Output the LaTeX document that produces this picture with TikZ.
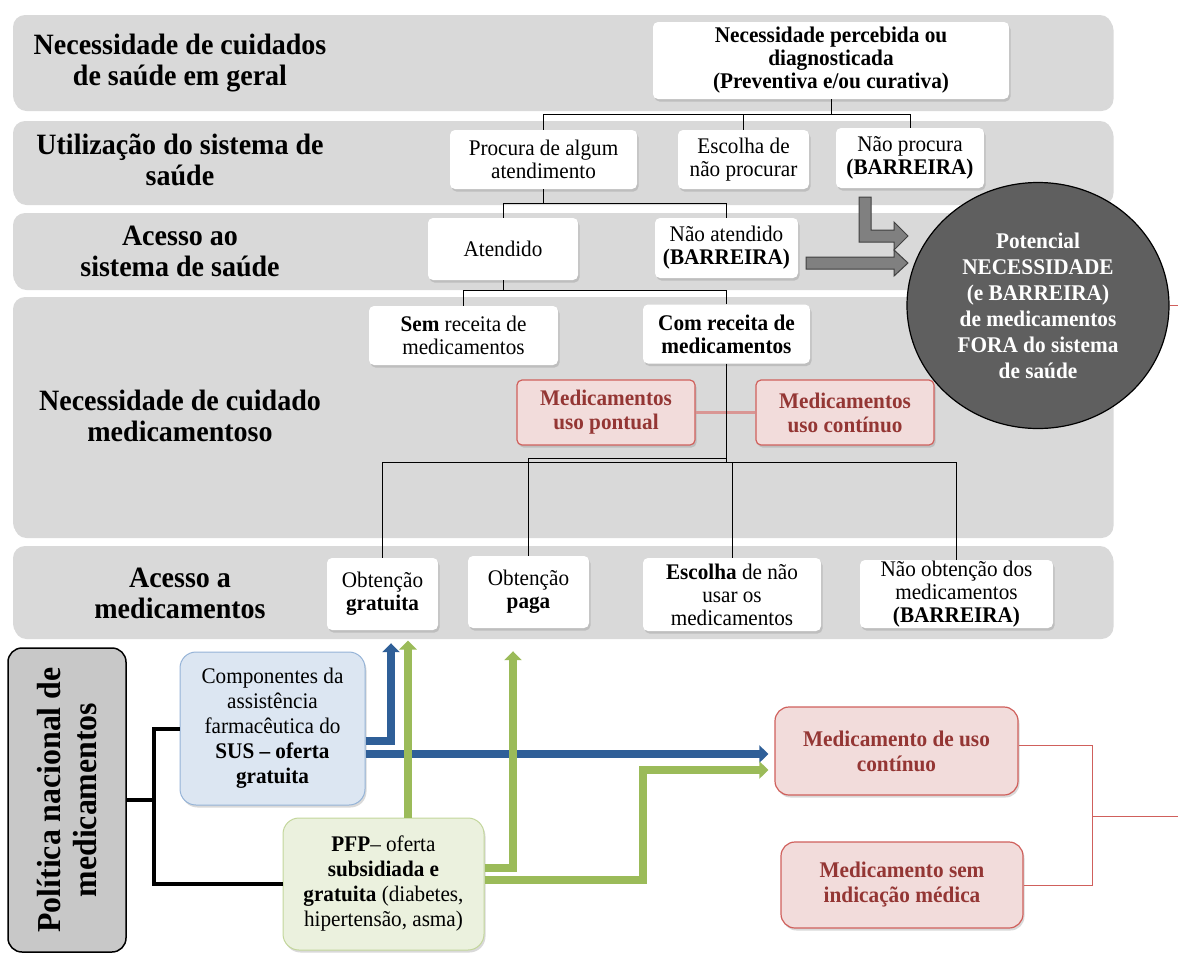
\documentclass[tikz,border=0pt]{standalone}
\usepackage{fontspec}
\setmainfont[FakeStretch=0.95]{Liberation Serif}
\usetikzlibrary{arrows.meta,shadows,shapes.geometric,calc}

\definecolor{bandgray}{HTML}{D9D9D9}
\definecolor{polgray}{HTML}{C8C8C8}
\definecolor{circgray}{HTML}{5F5F5F}
\definecolor{arrgray}{HTML}{808080}
\definecolor{redfill}{HTML}{F2DCDB}
\definecolor{redborder}{HTML}{D0605C}
\definecolor{redtext}{HTML}{943634}
\definecolor{redlink}{HTML}{D99694}
\definecolor{susfill}{HTML}{DCE6F2}
\definecolor{susborder}{HTML}{95B3D7}
\definecolor{pfpfill}{HTML}{EBF1DE}
\definecolor{pfpborder}{HTML}{C3D69B}
\definecolor{susblue}{HTML}{2F5F98}
\definecolor{pfpgreen}{HTML}{9BBB59}

\newcommand{\setsize}[2]{\fontsize{#1}{#2}\selectfont\lineskiplimit=-50pt}

\tikzset{
  band/.style={fill=bandgray, rounded corners=12pt,
    drop shadow={shadow xshift=1.5pt, shadow yshift=-3pt, opacity=.3}},
  bandlabel/.style={align=center, font=\setsize{29.5}{31}\bfseries},
  whitebox/.style={fill=white, rounded corners=5pt, inner sep=0pt, align=center,
    font=\setsize{22.3}{23},
    drop shadow={shadow xshift=1.5pt, shadow yshift=-2.5pt, opacity=.3}},
  boldbox/.style={whitebox, font=\setsize{22.4}{23}\bfseries},
  redbox/.style={whitebox, fill=redfill, draw=redborder, line width=1.2pt,
    text=redtext, font=\setsize{22.3}{24}\bfseries},
  sustext/.style={whitebox, rounded corners=16pt, line width=1pt,
    font=\setsize{22.3}{25}},
  tree/.style={line width=1pt},
  polline/.style={line width=4pt},
  bracket/.style={draw=redborder, line width=.8pt},
  grayarrow/.style={fill=arrgray, draw=black!75, line width=1pt},
  bluearrow/.style={draw=susblue, line width=7.5pt, -{Triangle[width=17pt,length=9pt]}},
  greenarrow/.style={draw=pfpgreen, line width=8.5pt, -{Triangle[width=17pt,length=9pt]}},
}

\begin{document}
\begin{tikzpicture}[x=1pt,y=-1pt]
\useasboundingbox (0,0) rectangle (1178,954);

% faixas
\fill[band] (13,15) rectangle (1112,108);
\fill[band] (13,121) rectangle (1112,202);
\fill[band] (13,213) rectangle (1112,287);
\fill[band] (13,297) rectangle (1112,535);
\fill[band] (13,546) rectangle (1112,636);

\node[bandlabel] (lbnec) at (180,63) {Necessidade de cuidados\\de saúde em geral};
\node[bandlabel] (lbuso) at (180,160) {Utilização do sistema de\\saúde};
\node[bandlabel] (lbacs) at (180,251) {Acesso ao\\sistema de saúde};
\node[bandlabel] (lbmed) at (180,416) {Necessidade de cuidado\\medicamentoso};
\node[bandlabel] (lbacm) at (180,593) {Acesso a\\medicamentos};

% caixas
\node[boldbox, minimum width=356pt, minimum height=77pt] (nec) at (831,60.5) {Necessidade percebida ou\\diagnosticada\\(Preventiva e/ou curativa)};
\node[whitebox, minimum width=187pt, minimum height=59pt] (procura) at (543.5,159.5) {Procura de algum\\atendimento};
\node[whitebox, minimum width=131pt, minimum height=59pt] (escolha) at (743.5,159.5) {Escolha de\\não procurar};
\node[whitebox, minimum width=148pt, minimum height=60pt] (naoproc) at (910,158) {Não procura\\\textbf{(BARREIRA)}};
\node[whitebox, minimum width=150pt, minimum height=62pt] (atend) at (503,249) {Atendido};
\node[whitebox, minimum width=143pt, minimum height=60pt] (naoatend) at (726.5,248) {Não atendido\\\textbf{(BARREIRA)}};
\node[whitebox, minimum width=189pt, minimum height=59pt] (semrec) at (463.5,335.5) {\textbf{Sem} receita de\\medicamentos};
\node[boldbox, minimum width=167pt, minimum height=59pt] (comrec) at (726.5,334) {Com receita de\\medicamentos};
\node[redbox, minimum width=178pt, minimum height=65pt] (pontual) at (606,412.5) {Medicamentos\\uso pontual};
\node[redbox, minimum width=178pt, minimum height=65pt] (continuo) at (845,412.5) {Medicamentos\\uso contínuo};
\node[whitebox, minimum width=111pt, minimum height=72pt] (gratis) at (382.5,594) {Obtenção\\\textbf{gratuita}};
\node[whitebox, minimum width=121pt, minimum height=72pt] (paga) at (528.5,592) {Obtenção\\\textbf{paga}};
\node[whitebox, minimum width=178pt, minimum height=73pt] (naousa) at (732,594.5) {\textbf{Escolha} de não\\usar os\\medicamentos};
\node[whitebox, minimum width=193pt, minimum height=68pt] (naoobt) at (956.5,594) {Não obtenção dos\\medicamentos\\\textbf{(BARREIRA)}};

% ligacoes
\draw[tree] (nec.south) -- ++(0,15) coordinate (b1);
\draw[tree] (b1) -| (procura.north);
\draw[tree] (b1) -| (escolha.north);
\draw[tree] (b1) -| (naoproc.north);
\draw[tree] (procura.south) -- ++(0,14) coordinate (b2);
\draw[tree] (b2) -| (atend.north);
\draw[tree] (b2) -| (naoatend.north);
\draw[tree] (atend.south) -- ++(0,10) coordinate (b3);
\draw[tree] (b3) -| (semrec.north);
\draw[tree] (b3) -| (comrec.north);
\draw[redlink, line width=3pt] (pontual.east) -- (continuo.west);
\draw[tree] (comrec.south) -- ++(0,95) coordinate (b4) -| (paga.north);
\draw[tree] (b4) -- ++(0,4) coordinate (b5) -| (gratis.north);
\draw[tree] (b5) -| (naousa.north);
\draw[tree] (b5) -| (naoobt.north);

% setas cinzas
\draw[grayarrow] (859,197) -- (871,197) -- (871,230) -- (894,230) -- (894,222) -- (908,236) -- (894,250) -- (894,242) -- (859,242) -- cycle;
\draw[grayarrow] (806,257) -- (894,257) -- (894,250) -- (908,263) -- (894,276) -- (894,269) -- (806,269) -- cycle;

\node[ellipse, fill=circgray, draw=black, line width=1.2pt, minimum width=262pt, minimum height=246pt, inner sep=0pt,
  text=white, align=center, font=\setsize{22.4}{26}\bfseries] (pot) at (1038,305.5)
  {Potencial\\NECESSIDADE\\(e BARREIRA)\\de medicamentos\\FORA do sistema\\de saúde};
\coordinate (potend) at (1178,305.5);
\draw[bracket] (pot.east) -- (potend);

% politica nacional
\node[draw=black, line width=1.5pt, fill=polgray, rounded corners=14pt, rotate=90, align=center,
  minimum width=304pt, minimum height=118pt, inner sep=0pt,
  font=\setsize{33.5}{36}\bfseries] (pol) at (67,800) {Política nacional de\\medicamentos};
\node[sustext, fill=susfill, draw=susborder, minimum width=185pt, minimum height=153pt] (sus) at (272.5,728.5)
  {Componentes da\\assistência\\farmacêutica do\\\textbf{SUS – oferta}\\\textbf{gratuita}};
\node[sustext, fill=pfpfill, draw=pfpborder, minimum width=201pt, minimum height=132pt] (pfp) at (383.5,884)
  {\textbf{PFP}– oferta\\\textbf{subsidiada e}\\\textbf{gratuita} (diabetes,\\hipertensão, asma)};
\draw[polline] (pol.south) -- ++(27,0) coordinate (pj);
\draw[polline] (sus.west) -| (pj) |- (pfp.west);

\node[redbox, rounded corners=14pt, minimum width=243pt, minimum height=88pt, font=\setsize{22.4}{25}\bfseries] (usocont) at (896.5,751) {Medicamento de uso\\contínuo};
\node[redbox, rounded corners=14pt, minimum width=242pt, minimum height=86pt, font=\setsize{22.4}{25}\bfseries] (semind) at (902,885) {Medicamento sem\\indicação médica};
\coordinate (brk) at (1092,816);
\coordinate (brkend) at (1178,816);
\draw[bracket] ([yshift=6pt]usocont.east) -| (brk) |- (semind.east);
\draw[bracket] (brk) -- (brkend);

% setas azuis e verdes
\coordinate (gturn) at (643,770);
\draw[bluearrow] ([yshift=-12.5pt]sus.east) -| ($(gratis.south)+(8.5,13)$);
\draw[bluearrow, shorten >=6pt] ([yshift=-25.5pt]sus.east) -- ([yshift=-3pt]usocont.west);
\draw[greenarrow] ([xshift=24.5pt]pfp.north) -- ++(0,-177);
\draw[greenarrow] ([yshift=16pt]pfp.east) -| ($(paga.south)+(-15.5,23)$);
\draw[greenarrow, shorten >=6pt] ([yshift=4pt]pfp.east) -| (gturn) -- ([yshift=-19pt]usocont.west);
\end{tikzpicture}
\end{document}
